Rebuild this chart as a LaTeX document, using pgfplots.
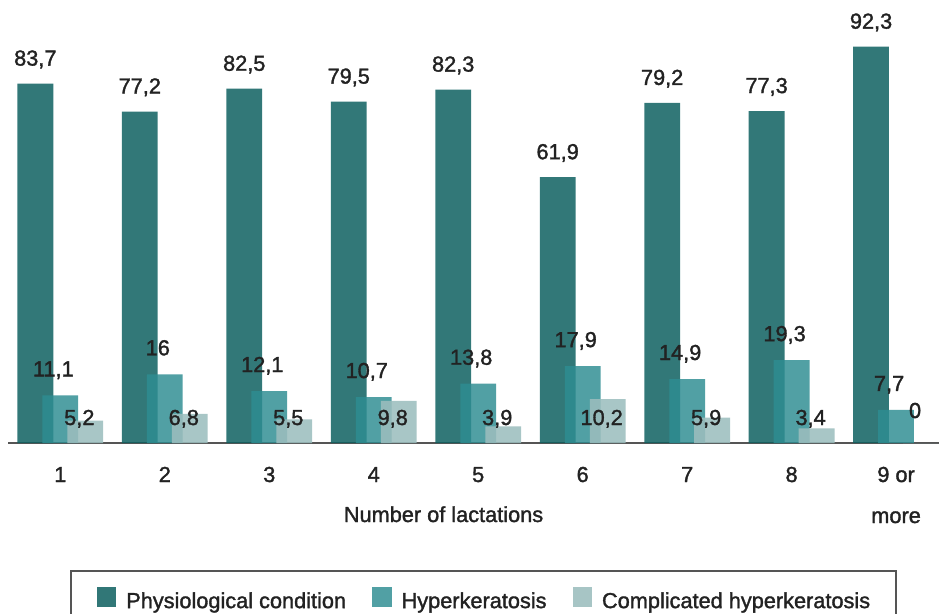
\documentclass[border=0pt]{standalone}
\usepackage{pgfplots}
\pgfplotsset{compat=1.18}
\usepackage{fontspec}
\setmainfont{Liberation Sans}[UprightFeatures={FakeBold=1.5}]
\definecolor{physc}{HTML}{0E6060}
\definecolor{hypc}{HTML}{2E8D92}
\definecolor{compc}{HTML}{9BBDBD}
\definecolor{txt}{HTML}{222222}
\definecolor{axc}{HTML}{555555}
\newcommand\lf{\fontsize{16.3}{30.75}\selectfont}

\begin{document}
\begin{tikzpicture}
\useasboundingbox (-6pt,-128.25pt) rectangle (698.25pt,332.25pt);
\begin{axis}[
  at={(0pt,0pt)}, anchor=south west,
  scale only axis, width=698.25pt, height=322.05pt,
  xmin=-0.5011, xmax=8.411, ymin=0, ymax=100,
  clip=false,
  axis x line*=bottom, axis y line=none,
  x axis line style={draw=axc, line width=1.5pt, -},
  xtick={0,...,8}, major tick length=0pt,
  xticklabels={1,2,3,4,5,6,7,8,{\begin{tabular}[t]{@{}c@{}}9 or\\more\end{tabular}}},
  xticklabel style={anchor=base, yshift=-29.25pt, font=\lf, text=txt},
  xlabel={Number of lactations},
  xlabel style={at={(axis description cs:0.4678,0)}, anchor=base, yshift=-59.25pt, font=\lf, text=txt},
  legend style={at={(axis description cs:0.0671,-0.296)}, anchor=north west,
    draw=axc, line width=1.5pt, inner xsep=19pt, inner ysep=12pt,
    font=\lf, text=txt, legend columns=3, nodes={inner sep=0pt},
    /tikz/every odd column/.append style={column sep=7.5pt},
    /tikz/every even column/.append style={column sep=19.5pt}},
]
\addplot[ybar, bar width=0.3427, bar shift=-0.2393, fill=physc, fill opacity=0.85, draw=none,
  point meta=explicit symbolic, nodes near coords,
  nodes near coords style={anchor=base, yshift=13.5pt, xshift=-18.75pt, font=\lf, text=txt, fill opacity=1, text opacity=1},
  legend image code/.code={\fill[physc] (0pt,-4pt) rectangle (14.6pt,10.6pt);}]
  coordinates {(0,83.7)[83,7] (1,77.2)[77,2] (2,82.5)[82,5] (3,79.5)[79,5] (4,82.3)[82,3]
               (5,61.9)[61,9] (6,79.2)[79,2] (7,77.3)[77,3] (8,92.3)[92,3]};
\addlegendentry{Physiological condition}
\addplot[ybar, bar width=0.3427, bar shift=0, fill=hypc, fill opacity=0.83, draw=none,
  point meta=explicit symbolic, nodes near coords,
  nodes near coords style={anchor=base, yshift=14.25pt, xshift=-5.25pt, font=\lf, text=txt, fill opacity=1, text opacity=1},
  legend image code/.code={\fill[hypc] (0pt,-4pt) rectangle (14.6pt,10.6pt);}]
  coordinates {(0,11.1)[11,1] (1,16)[16] (2,12.1)[12,1] (3,10.7)[10,7] (4,13.8)[13,8]
               (5,17.9)[17,9] (6,14.9)[14,9] (7,19.3)[19,3] (8,7.7)[7,7]};
\addlegendentry{Hyperkeratosis}
\addplot[ybar, bar width=0.3427, bar shift=0.2393, fill=compc, fill opacity=0.87, draw=none,
  legend image code/.code={\fill[compc] (0pt,-4pt) rectangle (14.6pt,10.6pt);}]
  coordinates {(0,5.2) (1,6.8) (2,5.5) (3,9.8) (4,3.9) (5,10.2) (6,5.9) (7,3.4) (8,0)};
\addlegendentry{Complicated hyperkeratosis}
\addplot[only marks, mark=none, point meta=explicit symbolic, nodes near coords,
  nodes near coords style={anchor=base, xshift=-4.5pt, font=\lf, text=txt}]
  coordinates {(0.2393,4.19)[5,2] (1.2393,4.19)[6,8] (2.2393,4.19)[5,5] (3.2393,4.19)[9,8]
               (4.2393,4.19)[3,9] (5.2393,4.19)[10,2] (6.2393,4.19)[5,9] (7.2393,4.19)[3,4]
               (8.2393,5.82)[0]};
\end{axis}
\end{tikzpicture}
\end{document}
